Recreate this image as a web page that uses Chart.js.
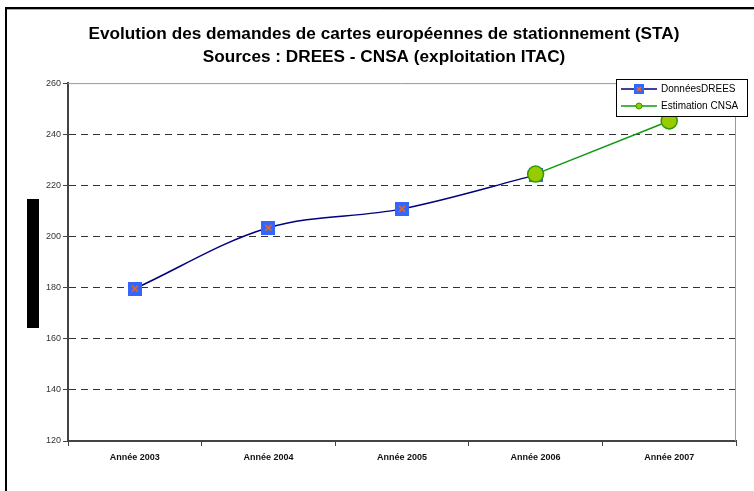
<!DOCTYPE html>
<html>
<head>
<meta charset="utf-8">
<script src="https://cdn.jsdelivr.net/npm/chart.js@4/dist/chart.umd.min.js"></script>
<style>
  html, body { margin: 0; padding: 0; background: #fff; }
</style>
</head>
<body>
<canvas id="chart" width="754" height="491"></canvas>
<script>
// Données
const years = ['Année 2003', 'Année 2004', 'Année 2005', 'Année 2006', 'Année 2007'];
const donneesDrees = [179.6, 203.4, 210.8, 224.0, null];
const estimationCnsa = [null, null, null, 224.4, 245.2];
const titleLines = [
  'Evolution des demandes de cartes européennes de stationnement (STA)',
  'Sources : DREES - CNSA (exploitation ITAC)'
];

// marqueur carré bleu avec une croix orange
function squareCross(size) {
  const cv = document.createElement('canvas');
  cv.width = size;
  cv.height = size;
  const g = cv.getContext('2d');
  g.fillStyle = '#3366ff';
  g.fillRect(0, 0, size, size);
  g.strokeStyle = '#ff6600';
  g.lineWidth = 1.5;
  const m = Math.round(size * 0.25);
  g.beginPath();
  g.moveTo(m, m); g.lineTo(size - m, size - m);
  g.moveTo(size - m, m); g.lineTo(m, size - m);
  g.stroke();
  return cv;
}
const bigMarker = squareCross(14);
const smallMarker = squareCross(10);

// cadre, bloc noir, bordures grises et légende
const decor = {
  id: 'decor',
  beforeDatasetsDraw(chart) {
    const ctx = chart.ctx;
    const a = chart.chartArea;
    ctx.save();
    ctx.strokeStyle = '#999';
    ctx.lineWidth = 1;
    ctx.beginPath();
    ctx.moveTo(a.left, a.top + 0.5);
    ctx.lineTo(a.right - 0.5, a.top + 0.5);
    ctx.lineTo(a.right - 0.5, a.bottom);
    ctx.stroke();
    ctx.restore();
  },
  afterDraw(chart) {
    const ctx = chart.ctx;
    ctx.save();
    // cadre extérieur
    ctx.strokeStyle = '#000';
    ctx.lineWidth = 2;
    ctx.beginPath();
    ctx.moveTo(6, 491);
    ctx.lineTo(6, 8);
    ctx.lineTo(754, 8);
    ctx.stroke();
    ctx.strokeStyle = '#aaa';
    ctx.lineWidth = 1;
    ctx.beginPath();
    ctx.moveTo(7, 9.5);
    ctx.lineTo(754, 9.5);
    ctx.stroke();

    // bloc noir à gauche
    ctx.fillStyle = '#000';
    ctx.fillRect(27, 199, 12, 129);

    // légende
    ctx.fillStyle = '#fff';
    ctx.fillRect(616.5, 79.5, 131, 37);
    ctx.strokeStyle = '#000';
    ctx.strokeRect(616.5, 79.5, 131, 37);
    const ds = chart.data.datasets;
    const rows = [89, 106];
    ctx.font = '10px Arial';
    ctx.textBaseline = 'middle';
    ds.forEach((d, i) => {
      const y = rows[i];
      ctx.strokeStyle = d.borderColor;
      ctx.lineWidth = 1.5;
      ctx.beginPath();
      ctx.moveTo(621, y);
      ctx.lineTo(657, y);
      ctx.stroke();
      if (i === 0) {
        ctx.drawImage(smallMarker, 634, y - 5);
      } else {
        ctx.beginPath();
        ctx.arc(639, y, 3, 0, Math.PI * 2);
        ctx.fillStyle = d.pointBackgroundColor;
        ctx.fill();
        ctx.strokeStyle = d.pointBorderColor;
        ctx.lineWidth = 1;
        ctx.stroke();
      }
      ctx.fillStyle = '#000';
      ctx.fillText(d.label, 661, y);
    });
    ctx.restore();
  }
};

const ctx = document.getElementById('chart').getContext('2d');
new Chart(ctx, {
  type: 'line',
  data: {
    labels: years,
    datasets: [
      {
        label: 'DonnéesDREES',
        data: donneesDrees,
        borderColor: '#000080',
        borderWidth: 1.5,
        tension: 0.35,
        pointStyle: bigMarker,
        pointBackgroundColor: '#3366ff',
        order: 1
      },
      {
        label: 'Estimation CNSA',
        data: estimationCnsa,
        borderColor: '#119911',
        borderWidth: 1.5,
        tension: 0,
        pointStyle: 'circle',
        pointRadius: 8,
        pointBackgroundColor: '#99cc00',
        pointBorderColor: '#339900',
        pointBorderWidth: 1.5,
        order: 0
      }
    ]
  },
  options: {
    responsive: false,
    animation: false,
    layout: { padding: { left: 14, right: 0, top: 0, bottom: 0 } },
    plugins: {
      legend: { display: false },
      tooltip: { enabled: false },
      title: {
        display: true,
        text: titleLines,
        font: { family: 'Arial', size: 17.2, weight: 'bold', lineHeight: 1.34 },
        color: '#000',
        padding: { top: 23, bottom: 14 }
      }
    },
    scales: {
      x: {
        offset: true,
        afterFit: s => { s.height = 50; },
        grid: { offset: true, drawOnChartArea: false, tickLength: 5, color: '#444', tickColor: '#444' },
        border: { color: '#444', width: 2 },
        ticks: { font: { family: 'Arial', size: 9, weight: 'bold' }, color: '#111', padding: 6, maxRotation: 0, autoSkip: false }
      },
      y: {
        min: 120,
        max: 260,
        afterFit: s => { s.width = 54; },
        grid: {
          color: c => (c.tick && (c.tick.value === 120 || c.tick.value === 260)) ? 'rgba(0,0,0,0)' : '#333',
          lineWidth: 1,
          tickLength: 5,
          tickColor: '#444'
        },
        border: { color: '#444', width: 2, dash: [7, 5] },
        ticks: { stepSize: 20, font: { family: 'Arial', size: 9 }, color: '#333', padding: 2 }
      },
      // axe vide à droite, seulement pour la marge
      yRight: {
        position: 'right',
        min: 120,
        max: 260,
        afterFit: s => { s.width = 18; },
        grid: { display: false },
        border: { display: false },
        ticks: { display: false }
      }
    }
  },
  plugins: [decor]
});
</script>
</body>
</html>
